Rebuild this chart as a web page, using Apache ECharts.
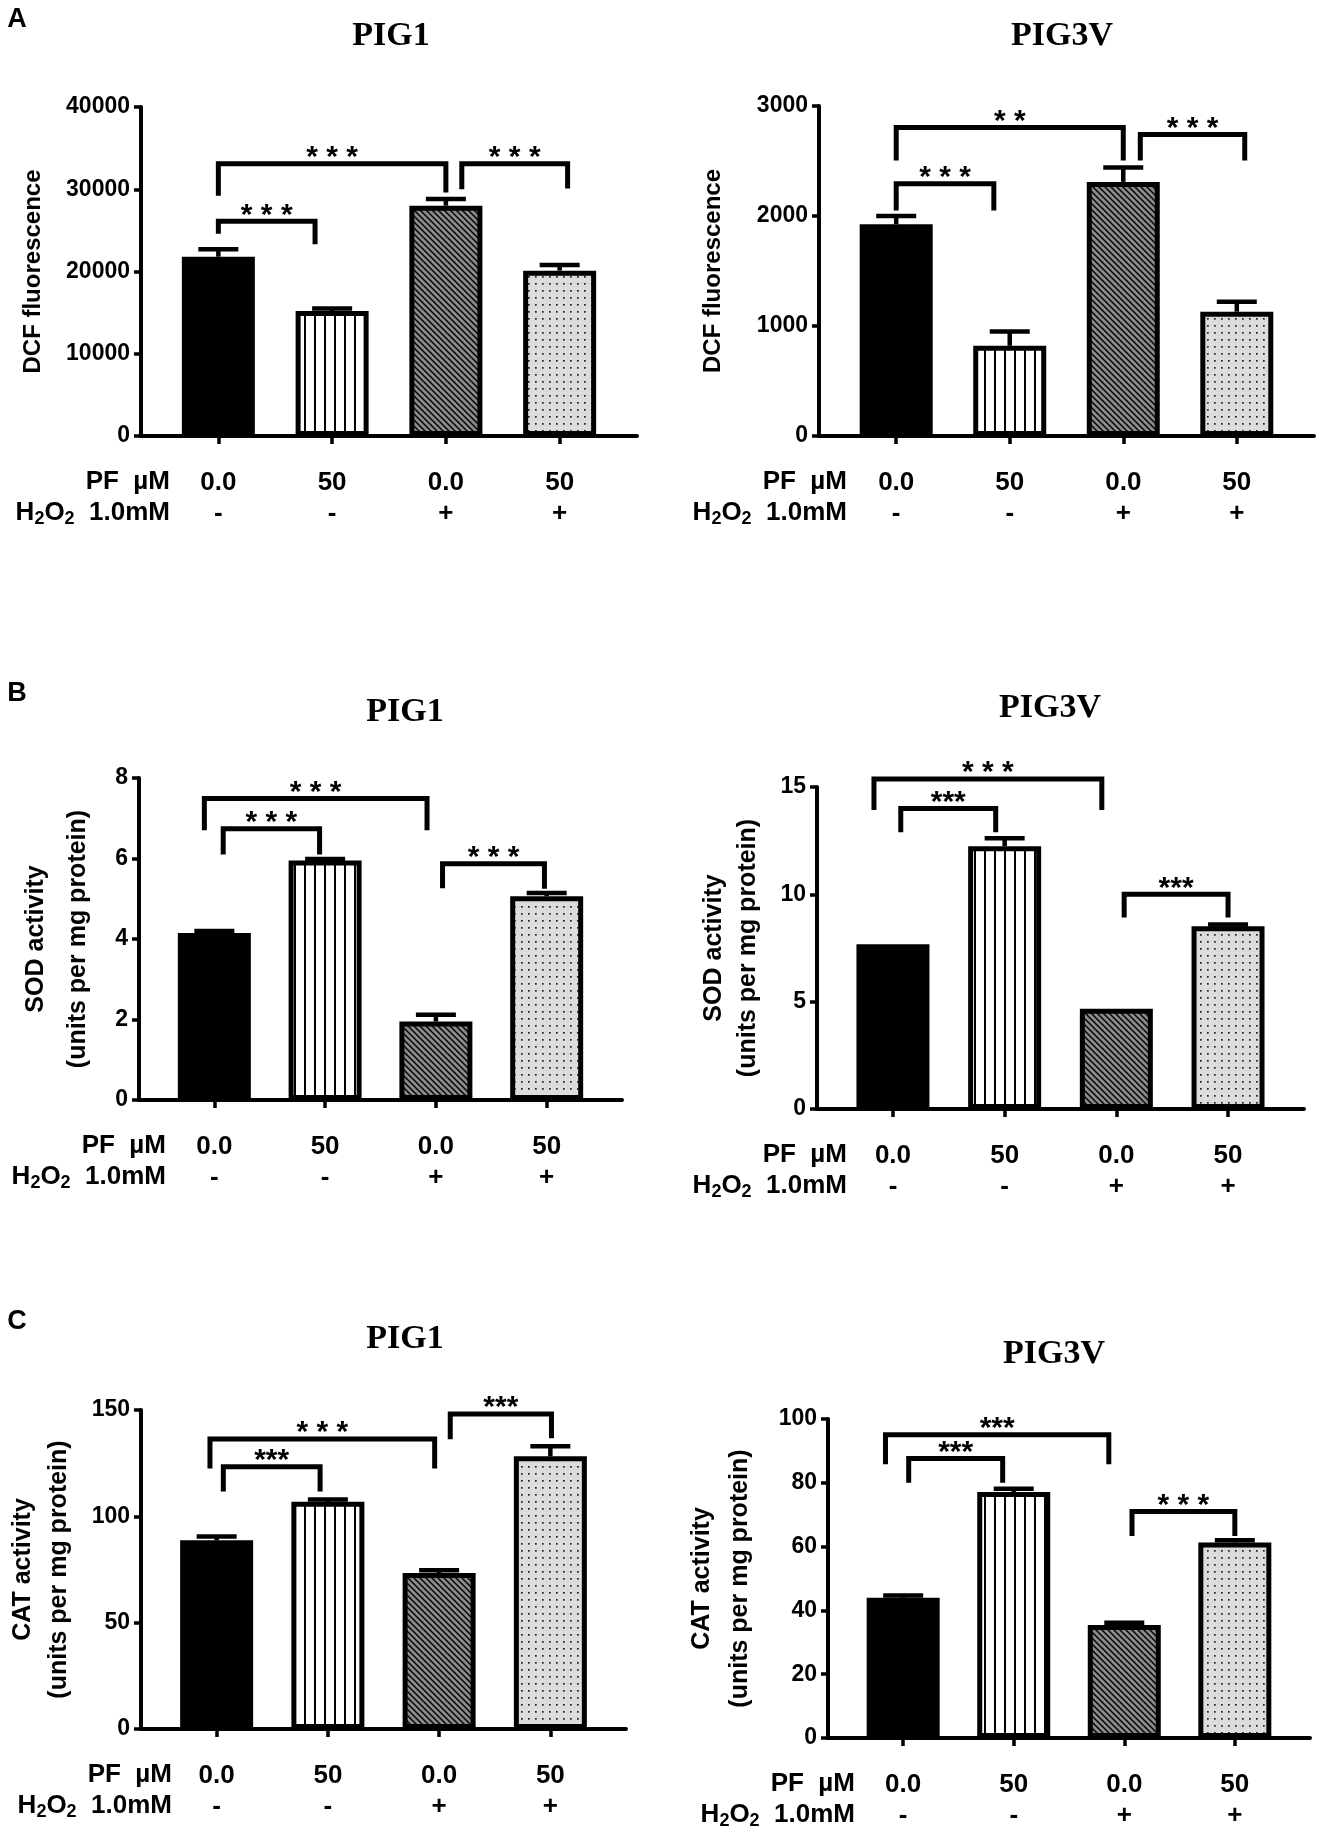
<!DOCTYPE html>
<html><head><meta charset="utf-8">
<script src="https://cdn.jsdelivr.net/npm/echarts@6/dist/echarts.min.js"></script>
<style>html,body{margin:0;padding:0;background:#fff}#c{width:1317px;height:1834px}</style>
</head><body><div id="c"></div>
<script>
// ---------- data ----------
const groupPositions = [0, 1, 2, 3];
const pfLabels = ['0.0', '50', '0.0', '50'];
const h2o2Labels = ['-', '-', '+', '+'];

// A: DCF fluorescence
const dcfPig1Mean = [21800, 15200, 28000, 20100];
const dcfPig1Err = [900, 300, 800, 700];
const dcfPig1Axis = [0, 40000, 10000];
const dcfPig1Brackets = [[0, 2, 33100, 29200, 29600, '* * *'], [0, 0.85, 26100, 24600, 23300, '* * *'], [2.14, 3.07, 33100, 30000, 30100, '* * *']];

const dcfPig3vMean = [1925, 820, 2310, 1130];
const dcfPig3vErr = [75, 130, 130, 90];
const dcfPig3vAxis = [0, 3000, 1000];
const dcfPig3vBrackets = [[0, 2, 2805, 2505, 2505, '* *'], [0, 0.86, 2294, 2050, 2050, '* * *'], [2.15, 3.07, 2740, 2505, 2505, '* * *']];

// B: SOD activity
const sodPig1Mean = [4.15, 5.95, 1.95, 5.06];
const sodPig1Err = [0.05, 0.04, 0.17, 0.08];
const sodPig1Axis = [0, 8, 2];
const sodPig1Brackets = [[-0.09, 1.92, 7.49, 6.70, 6.70, '* * *'], [0.08, 0.95, 6.74, 6.10, 6.10, '* * *'], [2.06, 2.98, 5.87, 5.26, 5.25, '* * *']];

const sodPig3vMean = [7.68, 12.24, 4.67, 8.51];
const sodPig3vErr = [0, 0.37, 0, 0.08];
const sodPig3vAxis = [0, 15, 5];
const sodPig3vBrackets = [[-0.17, 1.87, 15.37, 13.93, 13.93, '* * *'], [0.07, 0.92, 14.0, 12.89, 12.89, '***'], [2.07, 3.0, 10.0, 8.92, 8.92, '***']];

// C: CAT activity
const catPig1Mean = [88.7, 106.8, 73.3, 128.2];
const catPig1Err = [1.8, 1.1, 1.3, 4.8];
const catPig1Axis = [0, 150, 50];
const catPig1Brackets = [[-0.06, 1.96, 136.4, 122.5, 122.5, '* * *'], [0.06, 0.93, 123.3, 111.7, 111.7, '***'], [2.10, 3.01, 148.1, 136.2, 136.7, '***']];

const catPig3vMean = [44.0, 77.1, 35.4, 61.3];
const catPig3vErr = [0.7, 1.0, 0.7, 0.7];
const catPig3vAxis = [0, 100, 20];
const catPig3vBrackets = [[-0.16, 1.86, 95.1, 85.8, 85.8, '***'], [0.05, 0.90, 87.6, 80.0, 80.0, '***'], [2.07, 3.0, 71.0, 63.3, 63.3, '* * *']];

// ---------- patterns ----------
function makePattern(kind) {
  const c = document.createElement('canvas');
  const ctx = c.getContext('2d');
  if (kind === 'vert') {
    c.width = 10; c.height = 10;
    ctx.fillStyle = '#fff'; ctx.fillRect(0, 0, 10, 10);
    ctx.fillStyle = '#000'; ctx.fillRect(4, 0, 2, 10);
  } else if (kind === 'diag') {
    const p = 6; c.width = p; c.height = p;
    ctx.fillStyle = '#8a8a8a'; ctx.fillRect(0, 0, p, p);
    ctx.strokeStyle = '#000'; ctx.lineWidth = 1.4;
    ctx.beginPath();
    ctx.moveTo(-1, -1); ctx.lineTo(p + 1, p + 1);
    ctx.moveTo(p - 1, -1); ctx.lineTo(p + 1, 1);
    ctx.moveTo(-1, p - 1); ctx.lineTo(1, p + 1);
    ctx.stroke();
  } else {
    c.width = 7; c.height = 7;
    ctx.fillStyle = '#dcdcdc'; ctx.fillRect(0, 0, 7, 7);
    ctx.fillStyle = '#222'; ctx.fillRect(3, 3, 1.7, 1.7);
  }
  return { image: c, repeat: 'repeat' };
}
const fills = ['#000000', makePattern('vert'), makePattern('diag'), makePattern('dot')];

// ---------- layout ----------
const FONT = '"Liberation Sans", Arial, sans-serif';
const SERIF = '"Liberation Serif", "Times New Roman", serif';
const panels = [
  { mean: dcfPig1Mean, err: dcfPig1Err, axis: dcfPig1Axis, br: dcfPig1Brackets, title: 'PIG1', tpos: [391, 36], grid: [141, 107, 496, 329], yName: 'DCF fluorescence', nameGap: 95, nameLH: 26, nameSize: 24, hdr: 170 },
  { mean: dcfPig3vMean, err: dcfPig3vErr, axis: dcfPig3vAxis, br: dcfPig3vBrackets, title: 'PIG3V', tpos: [1062, 36], grid: [819, 106, 495, 330], yName: 'DCF fluorescence', nameGap: 93, nameLH: 26, nameSize: 24, hdr: 847 },
  { mean: sodPig1Mean, err: sodPig1Err, axis: sodPig1Axis, br: sodPig1Brackets, title: 'PIG1', tpos: [405, 712], grid: [139, 778, 483, 322], yName: 'SOD activity\n(units per mg protein)', nameGap: 40, nameLH: 42, nameSize: 25, hdr: 166 },
  { mean: sodPig3vMean, err: sodPig3vErr, axis: sodPig3vAxis, br: sodPig3vBrackets, title: 'PIG3V', tpos: [1050, 708], grid: [817, 787, 487, 322], yName: 'SOD activity\n(units per mg protein)', nameGap: 52, nameLH: 34, nameSize: 25, hdr: 847 },
  { mean: catPig1Mean, err: catPig1Err, axis: catPig1Axis, br: catPig1Brackets, title: 'PIG1', tpos: [405, 1339], grid: [141, 1410, 485, 319], yName: 'CAT activity\n(units per mg protein)', nameGap: 64, nameLH: 36, nameSize: 25, hdr: 172 },
  { mean: catPig3vMean, err: catPig3vErr, axis: catPig3vAxis, br: catPig3vBrackets, title: 'PIG3V', tpos: [1054, 1354], grid: [828, 1419, 482, 319], yName: 'CAT activity\n(units per mg protein)', nameGap: 69, nameLH: 38, nameSize: 25, hdr: 855 }
];

const option = { animation: false, backgroundColor: '#fff', textStyle: { fontFamily: FONT }, grid: [], xAxis: [], yAxis: [], series: [], graphic: [] };

const rowRich = {
  a: { fontSize: 26, fontWeight: 'bold', fontFamily: FONT, color: '#000', lineHeight: 31 },
  b: { fontSize: 26, fontWeight: 'bold', fontFamily: FONT, color: '#000', lineHeight: 31 }
};

panels.forEach((p, i) => {
  const [gl, gt, gw, gh] = p.grid;
  option.grid.push({ left: gl, top: gt, width: gw, height: gh, containLabel: false });
  option.xAxis.push({
    type: 'value', gridIndex: i, min: -0.68, max: 3.68,
    axisLine: { show: true, onZero: false, lineStyle: { color: '#000', width: 4 } },
    axisTick: { show: true, customValues: groupPositions, length: 8, lineStyle: { color: '#000', width: 3.5 } },
    axisLabel: {
      show: true, customValues: groupPositions, margin: 31,
      formatter: v => '{a|' + pfLabels[Math.round(v)] + '}\n{b|' + h2o2Labels[Math.round(v)] + '}',
      rich: rowRich
    },
    splitLine: { show: false }
  });
  option.yAxis.push({
    type: 'value', gridIndex: i, min: p.axis[0], max: p.axis[1], interval: p.axis[2],
    axisLine: { show: true, onZero: false, lineStyle: { color: '#000', width: 4 } },
    axisTick: { show: true, length: 7, lineStyle: { color: '#000', width: 3.5 } },
    axisLabel: { color: '#000', fontSize: 23, fontWeight: 'bold', fontFamily: FONT, margin: 11, formatter: v => String(v) },
    splitLine: { show: false },
    name: p.yName, nameLocation: 'middle', nameRotate: 90, nameGap: p.nameGap,
    nameTextStyle: { color: '#000', fontSize: p.nameSize, fontWeight: 'bold', fontFamily: FONT, lineHeight: p.nameLH }
  });
  option.series.push({
    type: 'bar', xAxisIndex: i, yAxisIndex: i, barWidth: 73, z: 2,
    data: p.mean.map((v, k) => ({ value: [groupPositions[k], v], itemStyle: { color: fills[k], borderColor: '#000', borderWidth: 5 } }))
  });
  option.series.push({
    type: 'custom', xAxisIndex: i, yAxisIndex: i, z: 3,
    data: p.mean.map((v, k) => [groupPositions[k], v, p.err[k]]),
    renderItem: (params, api) => {
      const x = api.value(0), y = api.value(1), e = api.value(2);
      if (!(e > 0)) return null;
      const a = api.coord([x, y]);
      const b = api.coord([x, y + e]);
      return { type: 'group', children: [
        { type: 'line', shape: { x1: a[0], y1: a[1], x2: b[0], y2: b[1] }, style: { stroke: '#000', lineWidth: 4.5 } },
        { type: 'line', shape: { x1: b[0] - 20, y1: b[1], x2: b[0] + 20, y2: b[1] }, style: { stroke: '#000', lineWidth: 4.5 } }
      ] };
    }
  });
  option.series.push({
    type: 'custom', xAxisIndex: i, yAxisIndex: i, z: 4, clip: false,
    data: p.br.map(b => [b[0], b[1], b[2], b[3], b[4]]),
    renderItem: (params, api) => {
      const x1 = api.value(0), x2 = api.value(1), yt = api.value(2), yl = api.value(3), yr = api.value(4);
      const a = api.coord([x1, yt]), b = api.coord([x2, yt]);
      const la = api.coord([x1, yl]), rb = api.coord([x2, yr]);
      const label = p.br[params.dataIndex][5];
      return { type: 'group', children: [
        { type: 'polyline', shape: { points: [la, a, b, rb] }, style: { stroke: '#000', lineWidth: 5, fill: null, lineJoin: 'miter' } },
        { type: 'text', x: (a[0] + b[0]) / 2, y: a[1] - 6, style: { text: label, fill: '#000', font: 'bold 30px ' + FONT, align: 'center', verticalAlign: 'middle', textAlign: 'center', textVerticalAlign: 'middle' } }
      ] };
    }
  });
  // titles
  option.graphic.push({ type: 'text', x: p.tpos[0], y: p.tpos[1], style: { text: p.title, fill: '#000', font: 'bold 34px ' + SERIF, align: 'center', verticalAlign: 'middle', textAlign: 'center', textVerticalAlign: 'middle' } });
  // row headers
  const axisY = gt + gh;
  option.graphic.push({ type: 'text', x: p.hdr, y: axisY + 46, style: { text: 'PF  µM', fill: '#000', font: 'bold 26px ' + FONT, align: 'right', verticalAlign: 'middle', textAlign: 'right', textVerticalAlign: 'middle' } });
  option.graphic.push({ type: 'text', x: p.hdr, y: axisY + 77, style: {
    text: '{n|H}{s|2}{n|O}{s|2}{n|  1.0mM}', align: 'right', verticalAlign: 'middle', textAlign: 'right', textVerticalAlign: 'middle',
    rich: {
      n: { fontSize: 26, fontWeight: 'bold', fontFamily: FONT, fill: '#000', lineHeight: 30 },
      s: { fontSize: 18, fontWeight: 'bold', fontFamily: FONT, fill: '#000', lineHeight: 16, verticalAlign: 'bottom' }
    } } });
});

// panel letters
[['A', 17, 20], ['B', 17, 694], ['C', 17, 1322]].forEach(l => {
  option.graphic.push({ type: 'text', x: l[1], y: l[2], style: { text: l[0], fill: '#000', font: 'bold 27px ' + FONT, align: 'center', verticalAlign: 'middle', textAlign: 'center', textVerticalAlign: 'middle' } });
});

const chart = echarts.init(document.getElementById('c'), null, { renderer: 'canvas' });
chart.setOption(option);
</script>
</body></html>
